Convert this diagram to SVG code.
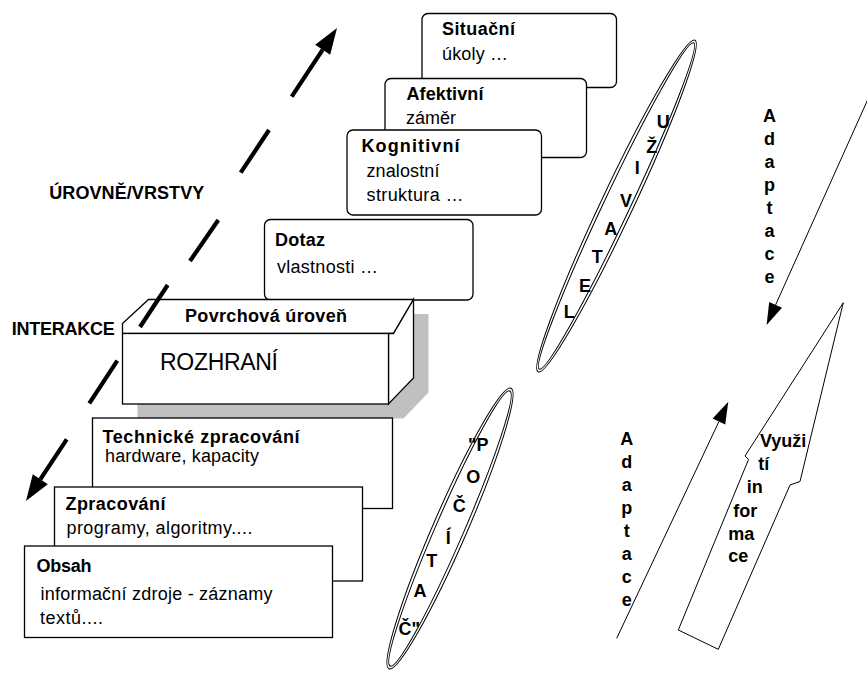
<svg xmlns="http://www.w3.org/2000/svg" width="867" height="673" viewBox="0 0 867 673">
  <style>
    text { font-family: "Liberation Sans", Arial, sans-serif; fill: #000; }
    .b { font-size: 18px; font-weight: bold; }
    .r { font-size: 18px; }
    .big { font-size: 23px; }
    .mid { text-anchor: middle; }
    .box { fill: #fff; stroke: #000; stroke-width: 1.3; }
    .edge { fill: none; stroke: #000; stroke-width: 1.3; stroke-linejoin: round; }
    .shadow { fill: #c0c0c0; stroke: none; }
    .ell { fill: none; stroke: #000; stroke-width: 1; }
    .thin { fill: none; stroke: #000; stroke-width: 1; }
    .thick { fill: none; stroke: #000; stroke-width: 4.2; stroke-linecap: butt; }
  </style>
  <defs>
    <marker id="headBold" markerUnits="userSpaceOnUse" markerWidth="27" markerHeight="19" refX="0" refY="9" orient="auto" overflow="visible">
      <path d="M0,0 L26,9 L0,18 Z" fill="#000"/>
    </marker>
    <marker id="headThin" markerUnits="userSpaceOnUse" markerWidth="23" markerHeight="15" refX="0" refY="7" orient="auto" overflow="visible">
      <path d="M0,0 L22,7 L0,14 Z" fill="#000"/>
    </marker>
  </defs>

  <!-- user-side layers, stacked -->
  <g id="situacni">
    <rect class="box" x="422" y="13.5" width="194.5" height="74" rx="6"/>
    <text class="b" x="442" y="35" textLength="73" lengthAdjust="spacing">Situační</text>
    <text class="r" x="442" y="60" textLength="66" lengthAdjust="spacing">úkoly …</text>
  </g>
  <g id="afektivni">
    <rect class="box" x="385" y="78.5" width="201.5" height="79" rx="6"/>
    <text class="b" x="406.5" y="100" textLength="77" lengthAdjust="spacing">Afektivní</text>
    <text class="r" x="406" y="124" textLength="50" lengthAdjust="spacing">záměr</text>
  </g>
  <g id="kognitivni">
    <rect class="box" x="347" y="130" width="194.5" height="85" rx="6"/>
    <text class="b" x="361.5" y="151.5" textLength="98" lengthAdjust="spacing">Kognitivní</text>
    <text class="r" x="366.5" y="177" textLength="73" lengthAdjust="spacing">znalostní</text>
    <text class="r" x="366.5" y="200.5" textLength="97" lengthAdjust="spacing">struktura …</text>
  </g>
  <g id="dotaz">
    <rect class="box" x="264.5" y="219.5" width="208.5" height="80.5" rx="6"/>
    <text class="b" x="275" y="246" textLength="50" lengthAdjust="spacing">Dotaz</text>
    <text class="r" x="277" y="273" textLength="101" lengthAdjust="spacing">vlastnosti …</text>
  </g>

  <!-- interface block with its drop shadow -->
  <g id="rozhrani">
    <polygon class="shadow" points="137.5,348 137.5,338 163.5,314 428.5,314 428.5,392.5 403.5,418.5 137.5,418.5"/>
    <polygon class="box" points="122.5,333.5 122.5,323.5 148.5,299.5 413.5,299.5 393.5,333.5"/>
    <polygon class="box" points="388.5,333.5 393.5,333.5 413.5,299.5 413.5,378 388.5,404"/>
    <rect class="box" x="122.5" y="333.5" width="266" height="70.5"/>
    <text class="b" x="185" y="321.5" textLength="162" lengthAdjust="spacing">Povrchová úroveň</text>
    <text class="big" x="160" y="370" textLength="118" lengthAdjust="spacing">ROZHRANÍ</text>
  </g>

  <!-- system-side layers -->
  <g id="technicke">
    <rect class="box" x="92.5" y="418" width="300" height="90.5"/>
    <text class="b" x="102.5" y="442.5" textLength="197" lengthAdjust="spacing">Technické zpracování</text>
    <text class="r" x="105" y="461.5" textLength="154" lengthAdjust="spacing">hardware, kapacity</text>
  </g>
  <g id="zpracovani">
    <rect class="box" x="54.5" y="487" width="308" height="94"/>
    <text class="b" x="65.5" y="510" textLength="100" lengthAdjust="spacing">Zpracování</text>
    <text class="r" x="66.5" y="533.5" textLength="186" lengthAdjust="spacing">programy, algoritmy....</text>
  </g>
  <g id="obsah">
    <rect class="box" x="24.5" y="546" width="308" height="91.5"/>
    <text class="b" x="36.5" y="571.5" textLength="55" lengthAdjust="spacing">Obsah</text>
    <text class="r" x="40.5" y="600" textLength="232" lengthAdjust="spacing">informační zdroje - záznamy</text>
    <text class="r" x="40" y="623.5" textLength="63" lengthAdjust="spacing">textů....</text>
  </g>

  <!-- side labels -->
  <g id="urovne">
    <text class="b" x="49.3" y="199.3" textLength="155" lengthAdjust="spacing">ÚROVNĚ/VRSTVY</text>
  </g>
  <g id="interakce">
    <text class="b" x="11.7" y="335" textLength="103" lengthAdjust="spacing">INTERAKCE</text>
  </g>

  <!-- user ellipse -->
  <g id="uzivatel">
    <g transform="translate(616.5,206) rotate(-64.7)">
      <ellipse class="ell" rx="183.5" ry="16"/>
      <ellipse class="ell" rx="180.5" ry="13"/>
    </g>
    <text class="b mid" x="663.3" y="128.3">U</text>
    <text class="b mid" x="651.7" y="152.7">Ž</text>
    <text class="b mid" x="637.3" y="174">I</text>
    <text class="b mid" x="626" y="206.7">V</text>
    <text class="b mid" x="610.7" y="235">A</text>
    <text class="b mid" x="597.3" y="263.3">T</text>
    <text class="b mid" x="585" y="291.7">E</text>
    <text class="b mid" x="569.3" y="318.3">L</text>
  </g>

  <!-- computer ellipse -->
  <g id="pocitac">
    <g transform="translate(450,528.5) rotate(-66.5)">
      <ellipse class="ell" rx="153" ry="17"/>
      <ellipse class="ell" rx="150" ry="14"/>
    </g>
    <text class="b mid" x="478.3" y="451">"P</text>
    <text class="b mid" x="473.3" y="482.7">O</text>
    <text class="b mid" x="459.3" y="511.7">Č</text>
    <text class="b mid" x="448.3" y="544">Í</text>
    <text class="b mid" x="431.7" y="566.7">T</text>
    <text class="b mid" x="420" y="597.3">A</text>
    <text class="b mid" x="409.3" y="635">Č"</text>
  </g>

  <!-- hollow block arrow -->
  <g id="vyuziti">
    <polygon class="thin" fill="#fff" points="843.3,302.7 745,456 748.5,459.5 678.3,630 718.3,649.3 790,485 800,481.5"/>
    <text class="b" x="760" y="446.7">Využi</text>
    <text class="b" x="758.3" y="470">tí</text>
    <text class="b" x="746.7" y="493.3">in</text>
    <text class="b" x="733.3" y="516.7">for</text>
    <text class="b" x="728.3" y="540">ma</text>
    <text class="b" x="728.3" y="561.7">ce</text>
  </g>

  <!-- adaptation labels -->
  <g id="adaptace-horni">
    <text class="b mid" x="769.5" y="121.7">A</text>
    <text class="b mid" x="769.5" y="144.7">d</text>
    <text class="b mid" x="769.5" y="167.7">a</text>
    <text class="b mid" x="769.5" y="190.7">p</text>
    <text class="b mid" x="769.5" y="213.7">t</text>
    <text class="b mid" x="769.5" y="236.7">a</text>
    <text class="b mid" x="769.5" y="259.7">c</text>
    <text class="b mid" x="769.5" y="282.7">e</text>
  </g>
  <g id="adaptace-dolni">
    <text class="b mid" x="626.7" y="445">A</text>
    <text class="b mid" x="626.7" y="468">d</text>
    <text class="b mid" x="626.7" y="491">a</text>
    <text class="b mid" x="626.7" y="514">p</text>
    <text class="b mid" x="626.7" y="537">t</text>
    <text class="b mid" x="626.7" y="560">a</text>
    <text class="b mid" x="626.7" y="583">c</text>
    <text class="b mid" x="626.7" y="606">e</text>
  </g>

  <!-- connectors -->
  <g id="connectors">
    <!-- dashed two-headed levels arrow -->
    <line class="thick" x1="291.7" y1="96.7" x2="322.7" y2="49.7" marker-end="url(#headBold)"/>
    <line class="thick" x1="269" y1="130" x2="240.7" y2="172.7"/>
    <line class="thick" x1="218.3" y1="220" x2="190" y2="261"/>
    <line class="thick" x1="167.7" y1="285" x2="140" y2="327"/>
    <line class="thick" x1="117.3" y1="360.7" x2="89.3" y2="403.3"/>
    <line class="thick" x1="66.7" y1="439.3" x2="40.3" y2="479.3" marker-end="url(#headBold)"/>
    <!-- adaptation arrows -->
    <line class="thin" x1="868" y1="99" x2="775.6" y2="304.9" marker-end="url(#headThin)"/>
    <line class="thin" x1="616.7" y1="638.3" x2="718.9" y2="421.6" marker-end="url(#headThin)"/>
  </g>
</svg>
